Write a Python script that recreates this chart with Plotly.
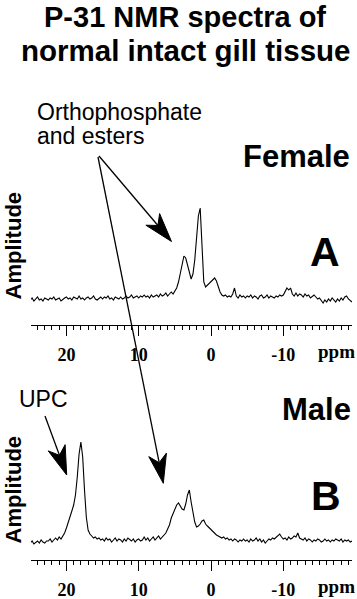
import plotly.graph_objects as go
import math

# ---------------- data ----------------
ppm = [
    25.0, 24.75, 24.5, 24.25, 24.0, 23.75, 23.5, 23.25, 23.0, 22.75,
    22.5, 22.25, 22.0, 21.75, 21.5, 21.25, 21.0, 20.75, 20.5, 20.25,
    20.0, 19.75, 19.5, 19.25, 19.0, 18.75, 18.5, 18.25, 18.0, 17.75,
    17.5, 17.25, 17.0, 16.75, 16.5, 16.25, 16.0, 15.75, 15.5, 15.25,
    15.0, 14.75, 14.5, 14.25, 14.0, 13.75, 13.5, 13.25, 13.0, 12.75,
    12.5, 12.25, 12.0, 11.75, 11.5, 11.25, 11.0, 10.75, 10.5, 10.25,
    10.0, 9.75, 9.5, 9.25, 9.0, 8.75, 8.5, 8.25, 8.0, 7.75,
    7.5, 7.25, 7.0, 6.75, 6.5, 6.25, 6.0, 5.75, 5.5, 5.25,
    5.0, 4.75, 4.5, 4.25, 4.0, 3.75, 3.5, 3.25, 3.0, 2.75,
    2.5, 2.25, 2.0, 1.75, 1.5, 1.25, 1.0, 0.75, 0.5, 0.25,
    0.0, -0.25, -0.5, -0.75, -1.0, -1.25, -1.5, -1.75, -2.0, -2.25,
    -2.5, -2.75, -3.0, -3.25, -3.5, -3.75, -4.0, -4.25, -4.5, -4.75,
    -5.0, -5.25, -5.5, -5.75, -6.0, -6.25, -6.5, -6.75, -7.0, -7.25,
    -7.5, -7.75, -8.0, -8.25, -8.5, -8.75, -9.0, -9.25, -9.5, -9.75,
    -10.0, -10.25, -10.5, -10.75, -11.0, -11.25, -11.5, -11.75, -12.0, -12.25,
    -12.5, -12.75, -13.0, -13.25, -13.5, -13.75, -14.0, -14.25, -14.5, -14.75,
    -15.0, -15.25, -15.5, -15.75, -16.0, -16.25, -16.5, -16.75, -17.0, -17.25,
    -17.5, -17.75, -18.0, -18.25, -18.5, -18.75, -19.0, -19.25, -19.5,
]

female_amp = [
    0, 2, -1, 1, 3, 0, 1, -1, 2, 1,
    0, 2, 1, 3, 0, 1, 2, -1, 1, 2,
    3, 1, 2, 0, 3, 2, 1, 4, 1, 2,
    0, 2, 3, 1, 2, 4, 1, 0, 2, 3,
    1, 3, 2, 4, 1, 2, 0, 3, 2, 1,
    3, 1, 2, 4, 2, 3, 5, 2, 3, 4,
    2, 4, 3, 5, 3, 4, 2, 5, 3, 4,
    5, 3, 6, 4, 5, 7, 4, 6, 8, 6,
    9, 12, 18, 27, 38, 44, 42, 35, 27, 21,
    26, 40, 62, 84, 92, 56, 18, 13, 15, 17,
    19, 20, 22, 19, 13, 8, 5, 4, 5, 3,
    4, 3, 6, 12, 4, 2, 5, 3, 4, 2,
    4, 3, 5, 2, 4, 3, 1, 4, 5, 2,
    3, 5, 2, 4, 3, 2, 4, 3, 5, 4,
    5, 9, 12, 10, 12, 6, 4, 7, 4, 6,
    5, 3, 6, 4, 5, 2, 4, 5, 3, 1,
    2, -1, -3, 0, -2, 1, -1, 2, 0, -2,
    1, -1, 2, 0, 3, 4, 1, -1, -2,
]

male_amp = [
    -1, 1, -2, 0, 1, -1, 2, 0, -1, 1,
    1, 3, 0, 2, 4, 2, 5, 3, 6, 9,
    14, 19, 25, 31, 37, 47, 65, 88, 100, 85,
    52, 25, 12, 8, 6, 4, 5, 3, 4, 2,
    3, 1, 4, 2, 3, 0, 2, 4, 1, 3,
    2, 0, 3, 1, 4, 2, 1, 3, 0, 2,
    3, 1, 2, 5, 2, 4, 1, 3, 5, 2,
    4, 6, 3, 5, 7, 9, 13, 17, 24, 29,
    34, 37, 39, 36, 33, 32, 38, 47, 52, 40,
    28, 20, 15, 16, 18, 21, 22, 18, 16, 14,
    13, 11, 9, 7, 6, 5, 4, 5, 3, 4,
    2, 3, 1, 3, 2, 0, 2, 1, 3, 1,
    2, 0, 3, 1, 2, 4, 1, 3, 0, 2,
    -1, 1, 3, 2, 4, 3, 5, 6, 8, 5,
    3, 4, 2, 5, 3, 4, 6, 5, 9, 4,
    3, 2, 4, 1, 3, 2, 0, 2, 1, 3,
    2, 0, 1, 3, 1, 2, 0, 2, 1, 3,
    2, 1, 3, 0, 2, 1, 2, 0, 1,
]

major_ticks = [20, 10, 0, -10]
major_labels = ["20", "10", "0", "-10"]

# ---------------- layout helpers ----------------
W, H = 357, 599
ML, MR, MT, MB = 31, 5, 0, 39
PW, PH = W - ML - MR, H - MT - MB


def px_x(x):
    return (x - ML) / PW


def px_y(y):
    return (MT + PH - y) / PH


SANS = "Liberation Sans, Arial, Helvetica, sans-serif"
SERIF = "Liberation Serif, Times New Roman, serif"

fig = go.Figure()
fig.add_trace(go.Scatter(x=ppm, y=female_amp, mode="lines",
                         line=dict(color="black", width=1.1),
                         xaxis="x", yaxis="y", showlegend=False, hoverinfo="skip"))
fig.add_trace(go.Scatter(x=ppm, y=male_amp, mode="lines",
                         line=dict(color="black", width=1.1),
                         xaxis="x2", yaxis="y2", showlegend=False, hoverinfo="skip"))

xaxis_common = dict(
    range=[24.9, -19.5], showline=True, linecolor="black", linewidth=1,
    ticks="outside", ticklen=10, tickwidth=1, tickcolor="black",
    tickmode="array", tickvals=major_ticks, ticktext=major_labels,
    tickfont=dict(family=SERIF, size=18, color="black", weight="bold"),
    ticklabelstandoff=3,
    minor=dict(ticks="outside", ticklen=4, tickwidth=1, tickcolor="black",
               dtick=1, tick0=0, showgrid=False),
    showgrid=False, zeroline=False, fixedrange=True,
)

fig.update_layout(
    width=W, height=H,
    margin=dict(l=ML, r=MR, t=MT, b=MB, pad=0),
    paper_bgcolor="white", plot_bgcolor="white",
    showlegend=False,
    xaxis=dict(anchor="y", domain=[0, 1], **xaxis_common),
    xaxis2=dict(anchor="y2", domain=[0, 1], **xaxis_common),
    yaxis=dict(domain=[px_y(325), px_y(190)], range=[-25, 110], visible=False),
    yaxis2=dict(domain=[0, px_y(420)], range=[-18, 122], visible=False),
)


def text_ann(txt, x, y, size, bold=False, xanchor="center", family=SANS, angle=0,
             yanchor="middle", borderpad=1):
    fig.add_annotation(
        text=txt, x=px_x(x), y=px_y(y), xref="paper", yref="paper",
        xanchor=xanchor, yanchor=yanchor, showarrow=False, textangle=angle,
        borderpad=borderpad,
        font=dict(family=family, size=size, color="black",
                  weight="bold" if bold else "normal"),
    )


# title (two separate lines to keep the tight line spacing)
text_ann("P-31 NMR spectra of", 185, 0, 29, bold=True, yanchor="top", borderpad=0)
text_ann("normal intact gill tissue", 185, 32.8, 29.5, bold=True, yanchor="top", borderpad=0)
# labels
text_ann("Orthophosphate", 34.5, 112.5, 23, xanchor="left")
text_ann("and esters", 34.5, 136, 23, xanchor="left")
text_ann("Female", 352, 156.2, 31, bold=True, xanchor="right")
text_ann("A", 325, 252, 41, bold=True)
text_ann("Male", 353, 409, 31, bold=True, xanchor="right")
text_ann("B", 325.5, 496, 41, bold=True)
text_ann("UPC", 16.5, 399, 23, xanchor="left")
text_ann("Amplitude", 12.5, 246, 22, bold=True, angle=-90)
text_ann("Amplitude", 12.5, 490, 22, bold=True, angle=-90)
text_ann("ppm", 336, 351.6, 19, bold=True, family=SERIF)
text_ann("ppm", 336, 586.6, 19, bold=True, family=SERIF)


# arrows (line + barbed head), given in pixel positions
def arrow(sx, sy, tx, ty, head_len=29, head_w=18, notch=21):
    dx, dy = tx - sx, ty - sy
    L = math.hypot(dx, dy)
    ux, uy = dx / L, dy / L
    nx, ny = -uy, ux
    bx, by = tx - notch * ux, ty - notch * uy
    fig.add_shape(type="line", xref="paper", yref="paper",
                  x0=px_x(sx), y0=px_y(sy), x1=px_x(bx), y1=px_y(by),
                  line=dict(color="black", width=1.3))
    b1 = (tx - head_len * ux + head_w / 2 * nx, ty - head_len * uy + head_w / 2 * ny)
    b2 = (tx - head_len * ux - head_w / 2 * nx, ty - head_len * uy - head_w / 2 * ny)
    pts = [(tx, ty), b1, (bx, by), b2]
    path = "M " + " L ".join(f"{px_x(a):.5f},{px_y(b):.5f}" for a, b in pts) + " Z"
    fig.add_shape(type="path", xref="paper", yref="paper", path=path,
                  fillcolor="black", line=dict(color="black", width=1))


arrow(99, 156, 171.5, 241.5)
arrow(98, 157, 163.3, 483.3)
arrow(45, 416, 66.7, 475)

fig.write_html(
    "out.html",
    config={"displayModeBar": False, "staticPlot": True},
    post_script="document.body.style.margin='0';document.body.style.padding='0';"
                "document.body.style.overflow='hidden';",
)
